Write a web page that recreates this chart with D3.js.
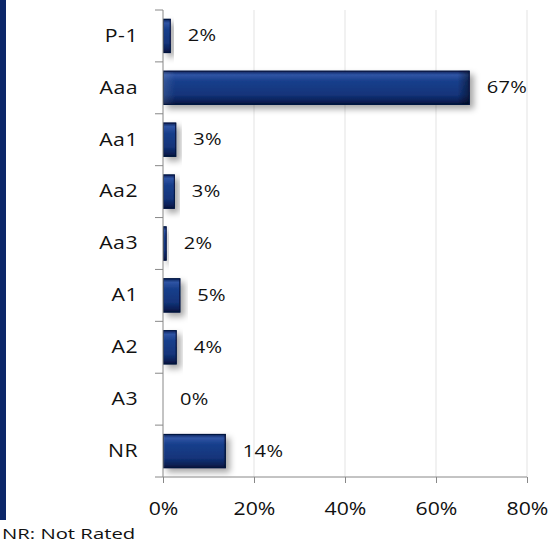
<!DOCTYPE html>
<html><head><meta charset="utf-8">
<script src="https://cdn.jsdelivr.net/npm/d3@7"></script>
<style>
html,body{margin:0;padding:0;background:#fff;}
svg{display:block;}
text{font-family:"Open Sans","Noto Sans",sans-serif;fill:#111;}
</style></head>
<body>
<svg id="chart" width="554" height="544"></svg>
<script>
const categories = ["P-1","Aaa","Aa1","Aa2","Aa3","A1","A2","A3","NR"];
const barValues = [1.7, 67.4, 2.9, 2.6, 0.8, 3.8, 3.0, 0, 13.8];
const valueLabels = ["2%","67%","3%","3%","2%","5%","4%","0%","14%"];
const xTicks = [0, 20, 40, 60, 80];
const footnote = "NR: Not Rated";

const svg = d3.select("#chart");
const m = {left:163, right:27, top:10, bottom:67};
const W = 554, H = 544;
const SX = 1.18; // horizontal stretch of the text in the reference
const x = d3.scaleLinear().domain([0,80]).range([m.left, W - m.right]);
const y = d3.scaleBand().domain(categories).range([m.top, H - m.bottom]).paddingInner(0.34).paddingOuter(0.17);
const yAxisScale = d3.scaleBand().domain(categories).range([m.top, H - m.bottom]);

const defs = svg.append("defs");
const grad = defs.append("linearGradient").attr("id","barGrad").attr("x1",0).attr("y1",0).attr("x2",0).attr("y2",1);
[[0,"#0a1f55"],[0.12,"#2f54a4"],[0.3,"#193f8c"],[0.7,"#13347a"],[0.9,"#0a1f55"],[1,"#050f33"]].forEach(([o,c])=>
  grad.append("stop").attr("offset",o).attr("stop-color",c));
const gradH = defs.append("linearGradient").attr("id","barGradH").attr("x1",0).attr("y1",0).attr("x2",1).attr("y2",0);
[[0,"rgba(255,255,255,0.12)"],[0.04,"rgba(255,255,255,0)"],[0.96,"rgba(0,0,0,0)"],[1,"rgba(0,0,0,0.45)"]].forEach(([o,c])=>
  gradH.append("stop").attr("offset",o).attr("stop-color",c));
const shadow = defs.append("filter").attr("id","shadow").attr("x","-20%").attr("y","-30%").attr("width","160%").attr("height","180%");
shadow.append("feDropShadow").attr("dx",4).attr("dy",4).attr("stdDeviation",3).attr("flood-color","#000").attr("flood-opacity",0.35);

// left border
svg.append("rect").attr("x",0).attr("y",0).attr("width",6).attr("height",520).attr("fill","#0c2769");

// gridlines
svg.append("g").selectAll("line").data(xTicks.filter(d=>d>0)).join("line")
  .attr("x1",d=>x(d)).attr("x2",d=>x(d)).attr("y1",m.top).attr("y2",H-m.bottom)
  .attr("stroke","#e3e3e3").attr("stroke-width",1);

// bars
const bars = svg.append("g");
categories.forEach((c,i)=>{
  const v = barValues[i];
  if (v <= 0) return;
  const bx = x(0), bw = x(v)-x(0), by = y(c), bh = y.bandwidth();
  const g = bars.append("g").attr("filter","url(#shadow)");
  g.append("rect").attr("x",bx).attr("y",by).attr("width",bw).attr("height",bh).attr("fill","url(#barGrad)");
  g.append("rect").attr("x",bx).attr("y",by).attr("width",bw).attr("height",bh).attr("fill","url(#barGradH)");
  g.append("rect").attr("x",bx+0.5).attr("y",by+0.5).attr("width",Math.max(bw-1,0)).attr("height",bh-1)
    .attr("fill","none").attr("stroke","#061440").attr("stroke-width",1);
});

function stretched(sel, px, py){
  sel.attr("x",0).attr("y",0).attr("transform",(d,i)=>`translate(${px(d,i)},${py(d,i)}) scale(${SX},1)`);
}

// y axis
const gy = svg.append("g").attr("transform",`translate(${x(0)},0)`);
gy.append("line").attr("x1",0).attr("x2",0).attr("y1",m.top).attr("y2",H-m.bottom).attr("stroke","#888");
const yBounds = categories.map(c=>yAxisScale(c)).concat([H-m.bottom]);
gy.selectAll("line.tk").data(yBounds).join("line").attr("class","tk")
  .attr("x1",-8).attr("x2",0).attr("y1",d=>d).attr("y2",d=>d).attr("stroke","#888");
gy.selectAll("text").data(categories).join("text")
  .attr("text-anchor","end").attr("dominant-baseline","middle")
  .attr("font-size",18).attr("letter-spacing",0.4).text(d=>d)
  .call(stretched, ()=>-25, d=>yAxisScale(d)+yAxisScale.bandwidth()/2+1);

// x axis
const xAxis = d3.axisBottom(x).tickValues(xTicks).tickFormat(d=>d+"%").tickSize(6).tickPadding(22);
const gx = svg.append("g").attr("transform",`translate(0,${H-m.bottom})`).call(xAxis);
gx.select(".domain").attr("stroke","#888").attr("d",`M${x(0)},0H${x(80)}`);
gx.selectAll(".tick line").attr("stroke","#888");
gx.selectAll(".tick text").attr("font-size",18).attr("fill","#111")
  .attr("font-family",'"Open Sans","Noto Sans",sans-serif')
  .attr("dy",null).attr("dominant-baseline","middle")
  .call(stretched, ()=>0, ()=>33);

// value labels
svg.append("g").selectAll("text").data(categories).join("text")
  .attr("dominant-baseline","middle").attr("font-size",17).attr("letter-spacing",0.3)
  .text((d,i)=>valueLabels[i])
  .call(stretched, (d,i)=>x(barValues[i])+17, d=>yAxisScale(d)+yAxisScale.bandwidth()/2+1);

// footnote
svg.append("text").attr("font-size",14).text(footnote)
  .attr("x",0).attr("y",0).attr("transform","translate(2,539) scale(1.45,1)");
</script>
</body></html>
